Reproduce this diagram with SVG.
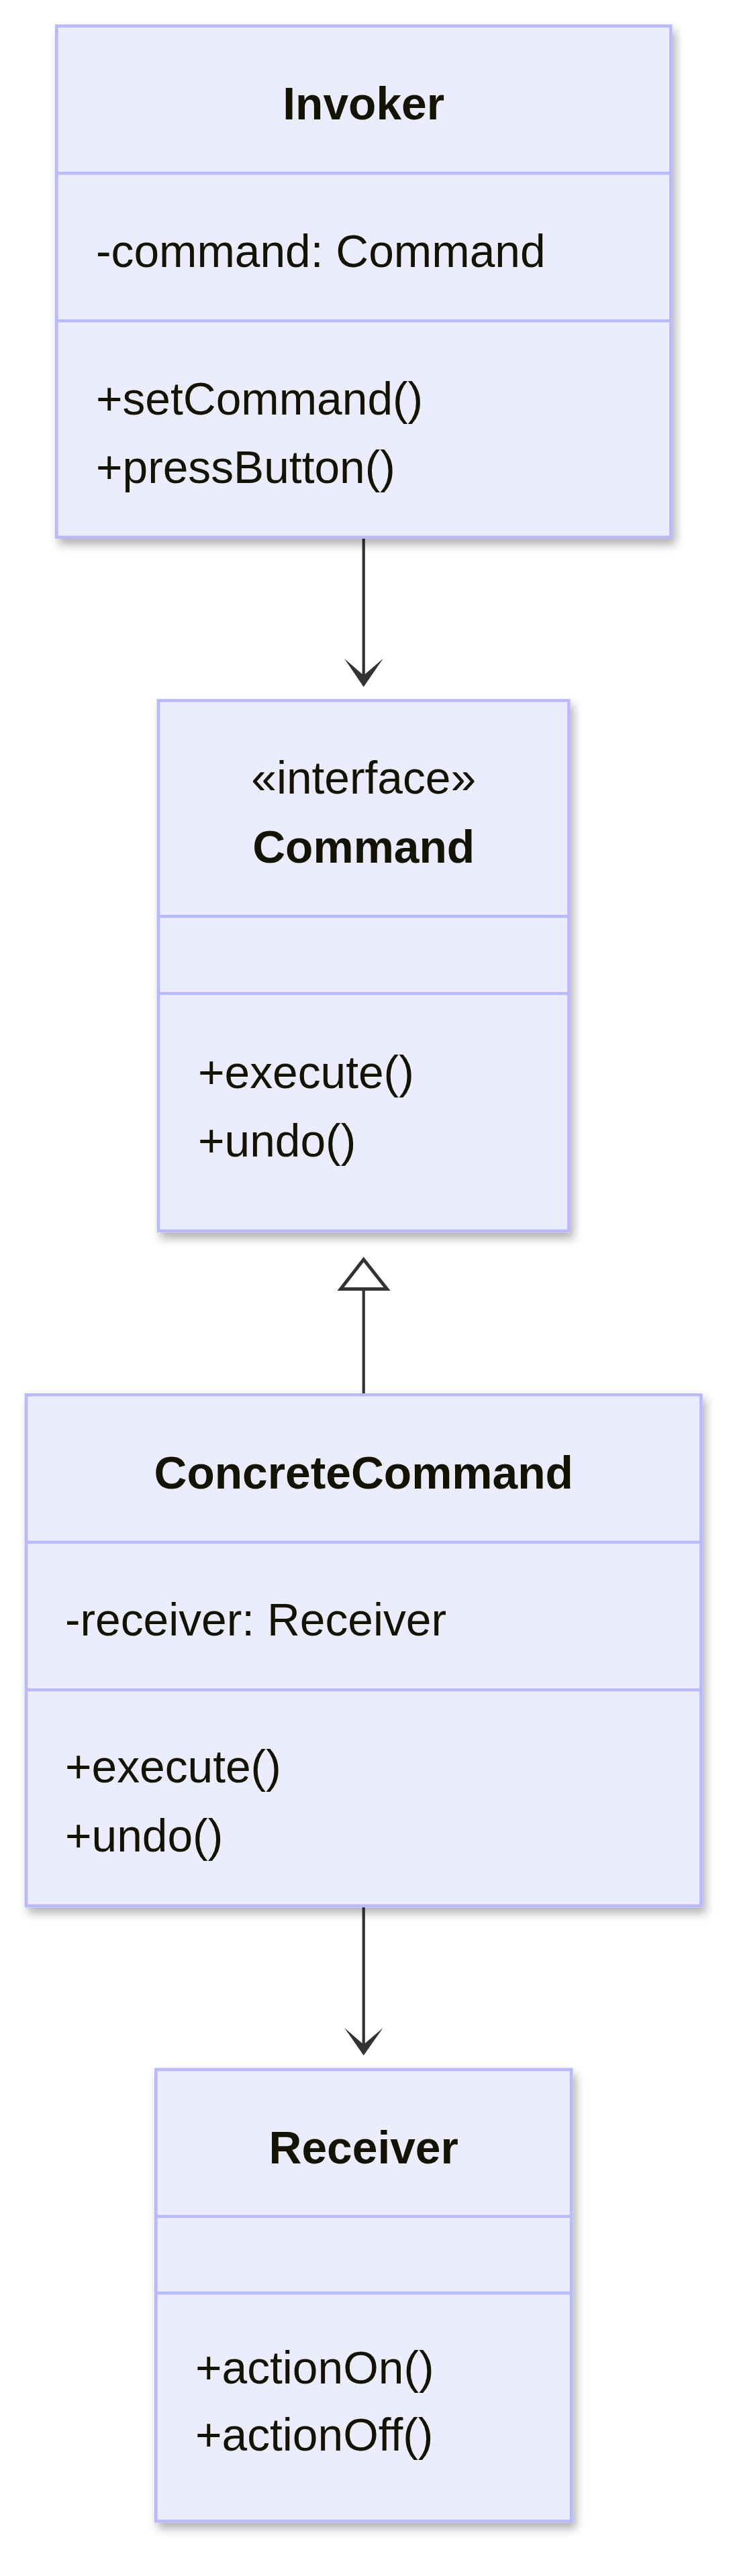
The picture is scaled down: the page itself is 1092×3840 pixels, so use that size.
<svg xmlns="http://www.w3.org/2000/svg" width="1092" height="3840" viewBox="0 0 1092 3840">
<defs>
<style>
.box{fill:#ECECFF;stroke:#B9B9FF;stroke-width:4.6;filter:url(#shadow);}
.div{stroke:#B9B9FF;stroke-width:4.6;}
.t{font-family:"Liberation Sans",Arial,sans-serif;font-size:67.7px;fill:#131300;}
.b{font-weight:bold;text-anchor:middle;}
.c{text-anchor:middle;}
.edge{stroke:#333333;stroke-width:4.2;fill:none;}
.head{fill:#333333;}
.tri{fill:#FFFFFF;stroke:#333333;stroke-width:5;stroke-linejoin:miter;}
</style>
<filter id="shadow" x="-10%" y="-10%" width="125%" height="125%">
<feDropShadow dx="5" dy="9" stdDeviation="7" flood-color="#000000" flood-opacity="0.3"/>
</filter>
</defs>
<rect width="1092" height="3840" fill="#FFFFFF"/>
<g id="connectors">
<line class="edge" x1="541.7" y1="800.7" x2="541.7" y2="1010"/>
<path class="head" d="M541.7,1024 L513,981.7 L541.7,1006.7 L570.7,981.7 Z"/>
<line class="edge" x1="541.7" y1="1921" x2="541.7" y2="2079.3"/>
<path class="tri" d="M541.7,1877.5 L507.5,1921.5 L576.5,1921.5 Z"/>
<line class="edge" x1="541.7" y1="2841" x2="541.7" y2="3050"/>
<path class="head" d="M541.7,3064 L513,3022.7 L541.7,3047.7 L570.7,3022.7 Z"/>
</g>
<g id="Invoker">
<rect class="box" x="84.3" y="38.7" width="915" height="762"/>
<line class="div" x1="84.3" y1="258.3" x2="999.3" y2="258.3"/>
<line class="div" x1="84.3" y1="478.3" x2="999.3" y2="478.3"/>
<text class="t b" x="541.7" y="178">Invoker</text>
<text class="t" x="143" y="397.7">-command: Command</text>
<text class="t" x="143" y="618.3">+setCommand()</text>
<text class="t" x="143" y="720">+pressButton()</text>
</g>
<g id="Command">
<rect class="box" x="236" y="1044.3" width="611.4" height="790.7"/>
<line class="div" x1="236" y1="1366" x2="847.4" y2="1366"/>
<line class="div" x1="236" y1="1481" x2="847.4" y2="1481"/>
<text class="t c" x="541.7" y="1183.3">«interface»</text>
<text class="t b" x="541.7" y="1286">Command</text>
<text class="t" x="295" y="1621.7">+execute()</text>
<text class="t" x="295" y="1724">+undo()</text>
</g>
<g id="ConcreteCommand">
<rect class="box" x="39" y="2079.3" width="1005.4" height="761.7"/>
<line class="div" x1="39" y1="2299" x2="1044.4" y2="2299"/>
<line class="div" x1="39" y1="2519" x2="1044.4" y2="2519"/>
<text class="t b" x="541.7" y="2219.3">ConcreteCommand</text>
<text class="t" x="97" y="2438.3">-receiver: Receiver</text>
<text class="t" x="97" y="2657">+execute()</text>
<text class="t" x="97" y="2760">+undo()</text>
</g>
<g id="Receiver">
<rect class="box" x="232.3" y="3085" width="618.8" height="673.3"/>
<line class="div" x1="232.3" y1="3304" x2="851.1" y2="3304"/>
<line class="div" x1="232.3" y1="3418.3" x2="851.1" y2="3418.3"/>
<text class="t b" x="541.7" y="3224.5">Receiver</text>
<text class="t" x="291" y="3553.3">+actionOn()</text>
<text class="t" x="291" y="3653.3">+actionOff()</text>
</g>
</svg>
